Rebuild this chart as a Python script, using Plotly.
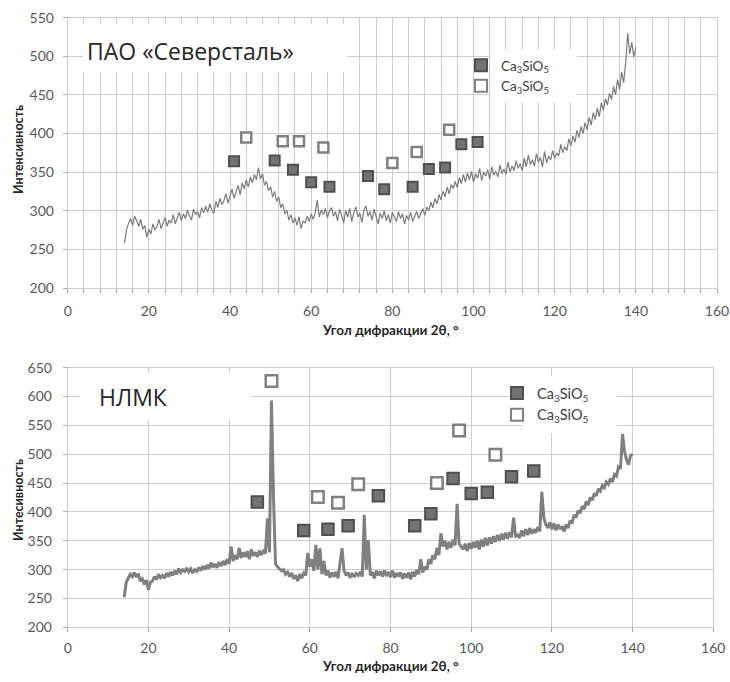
import plotly.graph_objects as go

W, H = 730, 682

# ---------------- data ----------------
angle_start = 14.0
angle_step = 0.5

# ПАО «Северсталь» diffractogram (14.0 ... 140.0, step 0.5)
sev_intensity = [
    258, 276, 284, 290, 281, 293, 287, 280, 289, 276,
    281, 266, 276, 270, 283, 275, 280, 289, 277, 284,
    291, 280, 288, 284, 295, 283, 292, 298, 287, 296,
    290, 301, 293, 288, 302, 295, 299, 291, 304, 297,
    306, 298, 309, 301, 297, 312, 304, 316, 308, 313,
    322, 310, 319, 328, 316, 325, 333, 321, 336, 328,
    340, 331, 344, 336, 347, 340, 356, 341, 348, 333,
    338, 326, 331, 318, 325, 312, 318, 304, 309, 296,
    301, 288, 295, 284, 291, 281, 292, 277, 287, 284,
    293, 286, 296, 289, 298, 314, 292, 301, 295, 303,
    291, 300, 304, 293, 299, 287, 302, 294, 284, 300,
    292, 303, 286, 298, 305, 292, 297, 285, 301, 306,
    293, 299, 288, 302, 294, 283, 297, 290, 300, 287,
    295, 284, 298, 291, 286, 299, 290, 296, 283, 294,
    288, 298, 286, 293, 299, 290, 296, 303, 294, 305,
    300, 311, 304, 316, 309, 321, 314, 325, 318, 331,
    322, 334, 329, 338, 330, 343, 335, 347, 337, 349,
    340, 351, 337, 348, 342, 355, 339, 350, 345, 353,
    341, 357, 346, 351, 344, 359, 348, 354, 347, 363,
    350, 358, 352, 365, 355, 361, 352, 368, 357, 372,
    360, 366, 358, 374, 363, 369, 357, 377, 362, 371,
    366, 378, 368, 375, 371, 386, 375, 383, 378, 393,
    384, 397, 389, 404, 395, 409, 400, 414, 405, 421,
    411, 427, 418, 433, 422, 440, 430, 445, 437, 452,
    444, 461, 450, 470, 457, 480, 466, 492, 530, 503,
    518, 499, 512,
]

# НЛМК diffractogram (14.0 ... 140.0, step 0.5)
nlmk_intensity = [
    252, 278, 285, 292, 288, 295, 287, 293, 280, 284,
    274, 282, 265, 278, 280, 288, 283, 292, 286, 290,
    285, 294, 288, 296, 290, 298, 292, 302, 295, 300,
    297, 303, 296, 301, 294, 300, 297, 304, 298, 306,
    300, 308, 302, 312, 304, 310, 303, 313, 306, 315,
    308, 318, 310, 340, 315, 325, 318, 338, 320, 330,
    322, 332, 318, 335, 324, 330, 322, 333, 325, 332,
    328, 389, 330, 593, 426, 310, 305, 302, 298, 300,
    292, 296, 288, 294, 284, 290, 280, 292, 285, 294,
    290, 329, 305, 318, 298, 343, 300, 337, 292, 315,
    290, 298, 286, 295, 288, 296, 285, 312, 337, 298,
    290, 295, 286, 294, 287, 293, 290, 296, 288, 395,
    300, 351, 290, 296, 285, 298, 290, 297, 288, 299,
    289, 296, 287, 298, 286, 294, 288, 295, 284, 293,
    286, 295, 283, 296, 288, 300, 292, 318, 295, 305,
    300, 318, 310, 325, 318, 338, 325, 363, 340, 350,
    335, 348, 338, 352, 342, 414, 345, 340, 335, 345,
    332, 346, 336, 348, 338, 350, 335, 352, 340, 355,
    342, 356, 345, 358, 348, 360, 350, 362, 352, 364,
    354, 365, 356, 390, 358, 360, 355, 368, 358, 370,
    360, 372, 362, 370, 364, 374, 366, 435, 390, 378,
    372, 382, 370, 380, 368, 378, 370, 375, 366, 378,
    372, 385, 380, 395, 390, 402, 398, 410, 405, 418,
    412, 425, 420, 432, 428, 440, 436, 446, 442, 452,
    448, 458, 452, 465, 462, 478, 475, 535, 505, 490,
    482, 498, 500,
]

sev_angle = [angle_start + i * angle_step for i in range(len(sev_intensity))]
nlmk_angle = [angle_start + i * angle_step for i in range(len(nlmk_intensity))]

# phase markers
sev_dark_x = [41, 51, 55.5, 60, 64.5, 74, 78, 85, 89, 93, 97, 101]
sev_dark_y = [364, 365, 353, 337, 331, 345, 328, 331, 354, 356, 386, 389]
sev_open_x = [44, 53, 57, 63, 80, 86, 94]
sev_open_y = [395, 390, 390, 382, 362, 376, 405]

nlmk_dark_x = [47, 58.5, 64.5, 69.5, 77, 86, 90, 95.5, 100, 104, 110, 115.5]
nlmk_dark_y = [417, 368, 370, 376, 428, 376, 397, 458, 432, 434, 461, 471]
nlmk_open_x = [50.5, 62, 67, 72, 91.5, 97, 106]
nlmk_open_y = [627, 426, 416, 448, 450, 541, 499]

phase_name = "Ca<sub>3</sub>SiO<sub>5</sub>"
title_top = "ПАО «Северсталь»"
title_bottom = "НЛМК"
x_title = "Угол дифракции 2θ, °"
y_title_top = "Интенсивность"
y_title_bottom = "Интесивность"

# ---------------- styling ----------------
FONT = "Lato, 'Open Sans', sans-serif"
TFONT = "'Open Sans', Lato, sans-serif"
GRID = "#cdcdcd"
TICKC = "#595959"
DARK_FILL = "#737373"
DARK_EDGE = "#4f4f4f"
OPEN_EDGE = "#808080"


def px_x(p):
    return p / W


def px_y(p):
    return 1 - p / H


fig = go.Figure()

# top panel
fig.add_trace(go.Scatter(x=sev_angle, y=sev_intensity, mode="lines",
                         line=dict(color="#7b7b7b", width=1.2), showlegend=False,
                         xaxis="x", yaxis="y"))
fig.add_trace(go.Scatter(x=sev_dark_x, y=sev_dark_y, mode="markers", name=phase_name,
                         marker=dict(symbol="square", size=10, color=DARK_FILL,
                                     line=dict(color=DARK_EDGE, width=2)),
                         xaxis="x", yaxis="y", legend="legend"))
fig.add_trace(go.Scatter(x=sev_open_x, y=sev_open_y, mode="markers", name=phase_name,
                         marker=dict(symbol="square", size=10, color="white",
                                     line=dict(color=OPEN_EDGE, width=2.5)),
                         xaxis="x", yaxis="y", legend="legend"))

# bottom panel
fig.add_trace(go.Scatter(x=nlmk_angle, y=nlmk_intensity, mode="lines",
                         line=dict(color="#808080", width=3), showlegend=False,
                         xaxis="x2", yaxis="y2"))
fig.add_trace(go.Scatter(x=nlmk_dark_x, y=nlmk_dark_y, mode="markers", name=phase_name,
                         marker=dict(symbol="square", size=11.5, color=DARK_FILL,
                                     line=dict(color=DARK_EDGE, width=2)),
                         xaxis="x2", yaxis="y2", legend="legend2"))
fig.add_trace(go.Scatter(x=nlmk_open_x, y=nlmk_open_y, mode="markers", name=phase_name,
                         marker=dict(symbol="square", size=11.5, color="white",
                                     line=dict(color=OPEN_EDGE, width=2.5)),
                         xaxis="x2", yaxis="y2", legend="legend2"))

axis_common = dict(showgrid=True, gridcolor=GRID, gridwidth=1, zeroline=False,
                   showline=True, mirror=True, linecolor=GRID, linewidth=1,
                   ticks="outside", ticklen=4, tickcolor="#a6a6a6", automargin=False,
                   tickfont=dict(family=FONT, size=14, color=TICKC))

fig.update_layout(
    template="none",
    width=W, height=H,
    margin=dict(l=0, r=0, t=0, b=0, autoexpand=False),
    paper_bgcolor="white", plot_bgcolor="white",
    font=dict(family=FONT, color=TICKC),
    xaxis=dict(domain=[px_x(67.7), px_x(717)], range=[0, 160], dtick=20,
               minor=dict(dtick=4, showgrid=True, gridcolor=GRID, ticks="outside",
                          ticklen=4, tickcolor="#a6a6a6"),
               ticklabelstandoff=6, anchor="y", **axis_common),
    yaxis=dict(domain=[px_y(288), px_y(17.7)], range=[200, 550], dtick=50,
               ticklabelstandoff=6, anchor="x", **axis_common),
    xaxis2=dict(domain=[px_x(67.7), px_x(713.3)], range=[0, 160], dtick=20,
                ticklabelstandoff=4, anchor="y2", **axis_common),
    yaxis2=dict(domain=[px_y(627.3), px_y(367.7)], range=[200, 650], dtick=50,
                ticklabelstandoff=8, anchor="x2", **axis_common),
    legend=dict(x=px_x(461), y=px_y(50), xanchor="left", yanchor="top",
                bgcolor="rgba(0,0,0,0)", font=dict(family=FONT, size=13.5, color="#404040"),
                tracegroupgap=0, itemsizing="constant"),
    legend2=dict(x=px_x(497), y=px_y(377), xanchor="left", yanchor="top",
                 bgcolor="rgba(0,0,0,0)", font=dict(family=FONT, size=14.5, color="#404040"),
                 tracegroupgap=0, itemsizing="constant"),
    showlegend=True,
)

# white boxes behind the panel titles and legend texts
for (x0, x1, y0, y1) in [(83, 347, 24, 72), (80, 252, 373, 420),
                         (490, 577, 50, 102), (523, 617, 376, 433)]:
    fig.add_shape(type="rect", xref="paper", yref="paper",
                  x0=px_x(x0), x1=px_x(x1), y0=px_y(y1), y1=px_y(y0),
                  fillcolor="white", line=dict(width=0), layer="above")

ann = [
    dict(text=title_top, x=px_x(191), y=px_y(51), size=23, color="#262626", bold=False, angle=0, f=TFONT),
    dict(text=title_bottom, x=px_x(133), y=px_y(397), size=23, color="#262626", bold=False, angle=0, f=TFONT),
    dict(text=x_title, x=px_x(390), y=px_y(330), size=13.5, color="#262626", bold=True, angle=0, f=FONT),
    dict(text=x_title, x=px_x(390), y=px_y(666), size=13.5, color="#262626", bold=True, angle=0, f=FONT),
    dict(text=y_title_top, x=px_x(18), y=px_y(150), size=12.5, color="#262626", bold=True, angle=-90, f=FONT),
    dict(text=y_title_bottom, x=px_x(18), y=px_y(500), size=12.5, color="#262626", bold=True, angle=-90, f=FONT),
]
for a in ann:
    txt = "<b>%s</b>" % a["text"] if a["bold"] else a["text"]
    fig.add_annotation(text=txt, x=a["x"], y=a["y"], xref="paper", yref="paper",
                       xanchor="center", yanchor="middle", showarrow=False,
                       textangle=a["angle"],
                       font=dict(family=a["f"], size=a["size"], color=a["color"]))

fig.write_html("out.html",
               config={"displayModeBar": False},
               post_script="document.body.style.margin='0px';document.body.style.overflow='hidden';")
